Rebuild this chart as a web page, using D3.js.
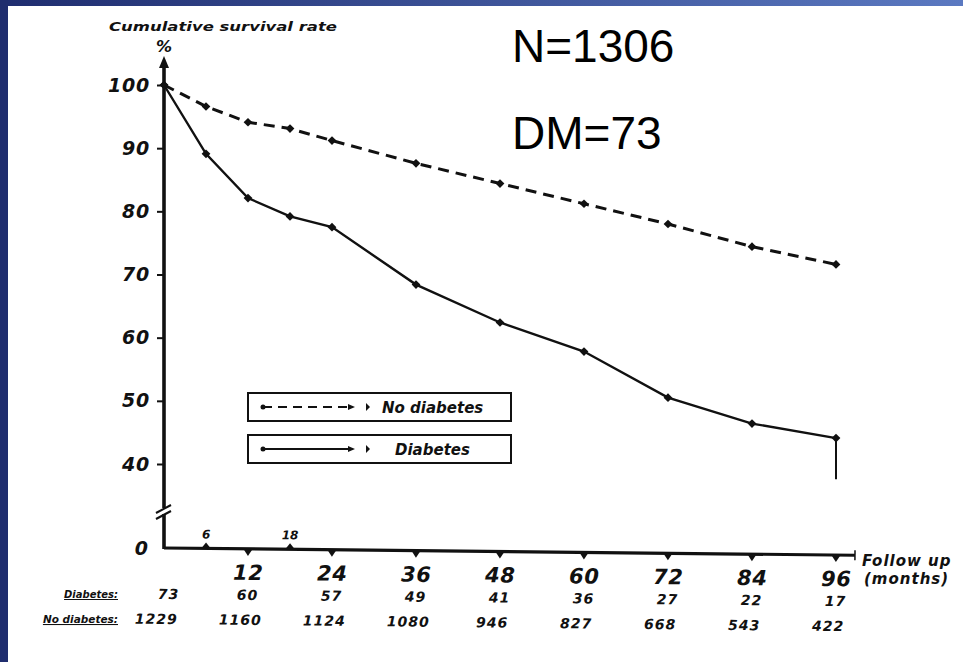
<!DOCTYPE html>
<html><head><meta charset="utf-8">
<script src="https://cdn.jsdelivr.net/npm/d3@7"></script>
<style>
html,body{margin:0;padding:0;background:#fff;}
svg{display:block;}
text{font-family:"Liberation Sans",Arial,sans-serif;}
.bi{font-family:"DejaVu Sans",sans-serif !important;font-weight:bold;font-style:oblique;fill:#111;}
</style></head>
<body>
<svg id="c" width="963" height="662"></svg>
<script>
// ---- data ----
const months = [0, 6, 12, 18, 24, 36, 48, 60, 72, 84, 96];
const noDiabetes = [100, 96.6, 94.1, 93.1, 91.2, 87.6, 84.4, 81.2, 78.0, 74.4, 71.6];
const diabetes   = [100, 89.1, 82.1, 79.2, 77.5, 68.4, 62.4, 57.8, 50.5, 46.4, 44.1];
const diabetesDropTo = 37.6;               // vertical drop after the last point
const yTicks = [40, 50, 60, 70, 80, 90, 100];
const xMajorTicks = [12, 24, 36, 48, 60, 72, 84, 96];
const xMinorTicks = [6, 18];
const atRiskMonths = [0, 12, 24, 36, 48, 60, 72, 84, 96];
const atRiskDiabetes = [73, 60, 57, 49, 41, 36, 27, 22, 17];
const atRiskNoDiabetes = [1229, 1160, 1124, 1080, 946, 827, 668, 543, 422];
const legendLabels = ["No diabetes", "Diabetes"];
const titleText = "Cumulative survival rate";
const noteLines = ["N=1306", "DM=73"];

const svg = d3.select("#c");

// slide background frame
const defs = svg.append("defs");
const g1 = defs.append("linearGradient").attr("id","topg").attr("x1","0").attr("x2","1").attr("y1","0").attr("y2","0");
g1.append("stop").attr("offset","0").attr("stop-color","#1f2d6f");
g1.append("stop").attr("offset","1").attr("stop-color","#5b79c1");
svg.append("rect").attr("x",0).attr("y",0).attr("width",963).attr("height",6).attr("fill","url(#topg)");
svg.append("rect").attr("x",0).attr("y",0).attr("width",8).attr("height",662).attr("fill","#1f2d6e");

// scales
const x = d3.scaleLinear().domain([0, 96]).range([164, 836]);
const y = d3.scaleLinear().domain([40, 100]).range([464, 85]);
const yZero = 548;

// title and %
svg.append("text").attr("class","bi").attr("x",109).attr("y",31)
  .attr("font-size",13).attr("textLength",228).attr("lengthAdjust","spacingAndGlyphs").text(titleText);
svg.append("text").attr("class","bi").attr("x",164).attr("y",52).attr("text-anchor","middle")
  .attr("font-size",16).text("%");

// y axis line + arrow
svg.append("line").attr("x1",164).attr("x2",164).attr("y1",62).attr("y2",yZero+1)
  .attr("stroke","#111").attr("stroke-width",3.6);
svg.append("path").attr("d",`M164,56 L159,68 L169,68 Z`).attr("fill","#111");
// y ticks
const yAxis = d3.axisLeft(y).tickValues(yTicks).tickSize(7).tickFormat(d3.format("d"));
const ya = svg.append("g").attr("transform","translate(164,0)").call(yAxis);
ya.select(".domain").remove();
ya.selectAll(".tick line").attr("stroke","#111").attr("stroke-width",2);
ya.selectAll(".tick text").attr("class","bi").attr("font-size",19).attr("x",-14)
  .attr("letter-spacing",0.8);
// zero label
svg.append("text").attr("class","bi").attr("x",148).attr("y",yZero+7).attr("text-anchor","end")
  .attr("font-size",19).text("0");
// axis break
svg.append("rect").attr("x",158).attr("y",508).attr("width",12).attr("height",6).attr("fill","#fff");
svg.append("line").attr("x1",156).attr("y1",513).attr("x2",171).attr("y2",505).attr("stroke","#111").attr("stroke-width",2);
svg.append("line").attr("x1",156).attr("y1",519).attr("x2",171).attr("y2",511).attr("stroke","#111").attr("stroke-width",2);

// bottom group, slightly tilted like the scanned figure
const bottom = svg.append("g").attr("transform",`rotate(0.6,164,${yZero})`);
bottom.append("line").attr("x1",164).attr("x2",855).attr("y1",yZero).attr("y2",yZero)
  .attr("stroke","#111").attr("stroke-width",3.2);
bottom.append("line").attr("x1",855).attr("x2",855).attr("y1",yZero-5).attr("y2",yZero+5)
  .attr("stroke","#111").attr("stroke-width",1.5);
const xAxis = d3.axisBottom(x).tickValues(xMajorTicks).tickSize(0).tickPadding(0).tickFormat(d3.format("d"));
const xa = bottom.append("g").attr("transform",`translate(0,${yZero})`).call(xAxis);
xa.select(".domain").remove();
xa.selectAll(".tick text").attr("class","bi").attr("font-size",21).attr("dy",0).attr("y",31)
  .attr("letter-spacing",0.5);
// triangle tick marks
bottom.selectAll("path.tri").data(xMajorTicks).join("path").attr("class","tri")
  .attr("d", d => `M${x(d)-4},${yZero+1} L${x(d)+4},${yZero+1} L${x(d)},${yZero+7} Z`).attr("fill","#111");
bottom.selectAll("path.tri2").data(xMinorTicks).join("path").attr("class","tri2")
  .attr("d", d => `M${x(d)-4},${yZero-1} L${x(d)+4},${yZero-1} L${x(d)},${yZero-6} Z`).attr("fill","#111");
bottom.selectAll("text.minor").data(xMinorTicks).join("text").attr("class","bi minor")
  .attr("x", d => x(d)).attr("y", yZero-10).attr("text-anchor","middle").attr("font-size",12).text(d => d);
// at-risk counts
bottom.selectAll("text.ard").data(atRiskMonths).join("text").attr("class","bi ard")
  .attr("x", (d,i) => x(d) + (i===0?5:0)).attr("y", 599).attr("text-anchor","middle")
  .attr("font-size",14).attr("letter-spacing",1).text((d,i) => atRiskDiabetes[i]);
bottom.selectAll("text.arn").data(atRiskMonths).join("text").attr("class","bi arn")
  .attr("x", d => x(d) - 7).attr("y", 624).attr("text-anchor","middle")
  .attr("font-size",14).attr("letter-spacing",1).text((d,i) => atRiskNoDiabetes[i]);
// row labels
svg.append("text").attr("class","bi").attr("x",118).attr("y",598).attr("text-anchor","end")
  .attr("font-size",10).attr("text-decoration","underline").text("Diabetes:");
svg.append("text").attr("class","bi").attr("x",118).attr("y",623).attr("text-anchor","end")
  .attr("font-size",10.5).attr("text-decoration","underline").text("No diabetes:");
// x axis title
svg.append("text").attr("class","bi").attr("x",862).attr("y",566).attr("font-size",15)
  .attr("letter-spacing",1).text("Follow up");
svg.append("text").attr("class","bi").attr("x",864).attr("y",584).attr("font-size",15)
  .attr("letter-spacing",1).text("(months)");

// lines
const line = d3.line().x((d,i) => x(months[i])).y(d => y(d));
svg.append("path").datum(noDiabetes).attr("d", line).attr("fill","none")
  .attr("stroke","#111").attr("stroke-width",3).attr("stroke-dasharray","11,7");
svg.append("path").datum(diabetes).attr("d", line).attr("fill","none")
  .attr("stroke","#111").attr("stroke-width",2.4);
svg.append("line").attr("x1",x(96)).attr("x2",x(96)).attr("y1",y(diabetes[diabetes.length-1]))
  .attr("y2",y(diabetesDropTo)).attr("stroke","#111").attr("stroke-width",2);
// markers
const sym = d3.symbol().type(d3.symbolDiamond).size(34);
[noDiabetes, diabetes].forEach(series => {
  svg.append("g").selectAll("path").data(series).join("path")
    .attr("d", sym).attr("transform",(d,i) => `translate(${x(months[i])},${y(d)}) scale(1.4,0.8)`)
    .attr("fill","#111");
});

// legend
const legY = [393, 435];
legendLabels.forEach((lab, i) => {
  const g = svg.append("g");
  g.append("rect").attr("x",248).attr("y",legY[i]).attr("width",263).attr("height",28)
    .attr("fill","#fff").attr("stroke","#111").attr("stroke-width",2);
  const ly = legY[i] + 14;
  g.append("line").attr("x1",263).attr("x2",352).attr("y1",ly).attr("y2",ly).attr("stroke","#111")
    .attr("stroke-width",2).attr("stroke-dasharray", i===0 ? "9,6" : null);
  g.append("circle").attr("cx",263).attr("cy",ly).attr("r",2.5).attr("fill","#111");
  g.append("path").attr("d",`M${348},${ly-3} L${355},${ly} L${348},${ly+3} Z`).attr("fill","#111");
  g.append("path").attr("d",`M${366},${ly-4} L${370},${ly} L${366},${ly+4} Z`).attr("fill","#111");
  g.append("text").attr("class","bi").attr("x", i===0 ? 382 : 395).attr("y", ly+6)
    .attr("font-size",15).text(lab);
});

// notes
svg.selectAll("text.note").data(noteLines).join("text").attr("class","note")
  .attr("x",512).attr("y",(d,i) => 62 + i*87).attr("font-size",46).attr("fill","#000")
  .style("font-family","Liberation Sans, Arial, sans-serif").text(d => d);
</script>
</body></html>
